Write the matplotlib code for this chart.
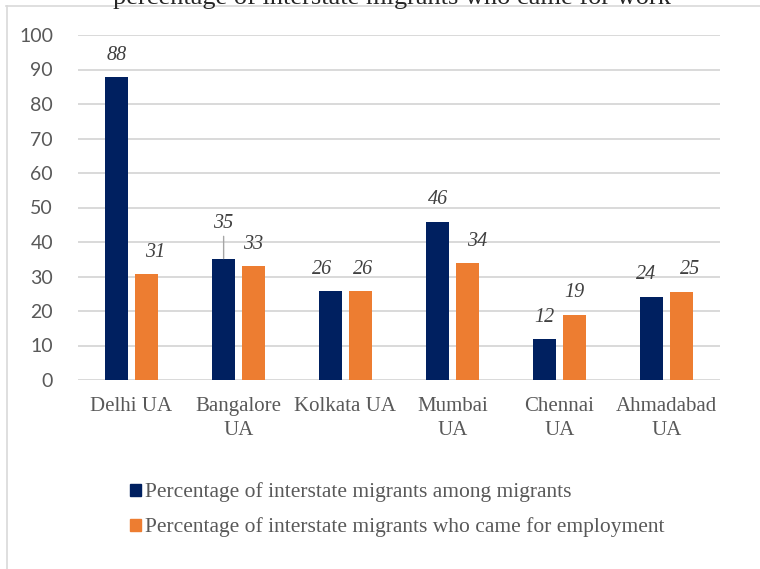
import numpy as np
import matplotlib.pyplot as plt
from matplotlib.lines import Line2D

# Chart data
cities = ['Delhi UA', 'Bangalore\nUA', 'Kolkata UA', 'Mumbai\nUA', 'Chennai\nUA', 'Ahmadabad\nUA']
among_migrants = [87.8, 35.2, 25.8, 45.9, 11.8, 24.1]
for_employment = [30.7, 33.0, 25.8, 33.8, 18.9, 25.6]
among_labels = ['88', '35', '26', '46', '12', '24']
employ_labels = ['31', '33', '26', '34', '19', '25']
series_names = ['Percentage of interstate migrants among migrants',
                'Percentage of interstate migrants who came for employment']
title = 'percentage of interstate migrants who came for work'

navy = '#002060'
orange = '#ED7D31'
grid_col = '#D9D9D9'
text_col = '#595959'
label_col = '#404040'
serif = 'Liberation Serif'

# small nudges of the data labels (points), as placed in the original
among_dx = [0, 0, -6, 0, 0, -4]
employ_dx = [6, 0, 2, 7, 0, 6]

fig = plt.figure(figsize=(7.6, 5.69), dpi=100)
ax = fig.add_axes([78 / 760, 1 - 380 / 569, 642 / 760, 345 / 569])

x = np.arange(len(cities))
w = 0.215
off = 0.139
ax.bar(x - off, among_migrants, w, color=navy, zorder=3)
ax.bar(x + off, for_employment, w, color=orange, zorder=3)

ax.set_xlim(-0.5, len(cities) - 0.5)
ax.set_ylim(0, 100)
ax.set_yticks(range(0, 101, 10))
ax.yaxis.grid(True, color=grid_col, lw=1.4, zorder=0)
ax.set_axisbelow(True)
for s in ax.spines.values():
    s.set_visible(False)
ax.tick_params(length=0)
ax.tick_params(axis='y', labelsize=14, labelcolor=text_col, pad=18)
ax.tick_params(axis='x', labelcolor=text_col, pad=12)
for t in ax.get_yticklabels():
    t.set_family('Lato')
ax.set_xticks(x)
ax.set_xticklabels(cities, family=serif, fontsize=15, linespacing=1.4)

# data labels
for i in range(len(cities)):
    dy = 25 if i == 1 else 15.8
    ax.annotate(among_labels[i], (x[i] - off, among_migrants[i]),
                xytext=(among_dx[i], dy), textcoords='offset points', ha='center', va='center',
                fontsize=14.5, style='italic', family=serif, color=label_col)
    ax.annotate(employ_labels[i], (x[i] + off, for_employment[i]),
                xytext=(employ_dx[i], 15.8), textcoords='offset points', ha='center', va='center',
                fontsize=14.5, style='italic', family=serif, color=label_col)
# leader line for Bangalore
ax.annotate('', (x[1] - off, among_migrants[1]), xytext=(0, 16), textcoords='offset points',
            arrowprops=dict(arrowstyle='-', color='#A6A6A6', lw=1, shrinkA=0, shrinkB=0))

handles = [plt.Rectangle((0, 0), 1, 1, color=navy), plt.Rectangle((0, 0), 1, 1, color=orange)]
leg = fig.legend(handles, series_names, loc='center left', bbox_to_anchor=(111 / 760, 1 - 510 / 569),
                 frameon=False, handlelength=0.48, handleheight=0.48, handletextpad=0.2,
                 labelspacing=0.7, prop={'family': serif, 'size': 15.5})
for t in leg.get_texts():
    t.set_color(text_col)

# cropped title and frame
fig.text(0.516, 1 - 4 / 569, title, ha='center', va='baseline', family=serif, fontsize=19, color='#262626')
fig.add_artist(Line2D([6 / 760, 1], [1 - 6 / 569, 1 - 6 / 569], color=grid_col, lw=1.2))
fig.add_artist(Line2D([6.5 / 760, 6.5 / 760], [0, 1 - 6 / 569], color=grid_col, lw=1.2))

fig.savefig('out.png', dpi=100)
